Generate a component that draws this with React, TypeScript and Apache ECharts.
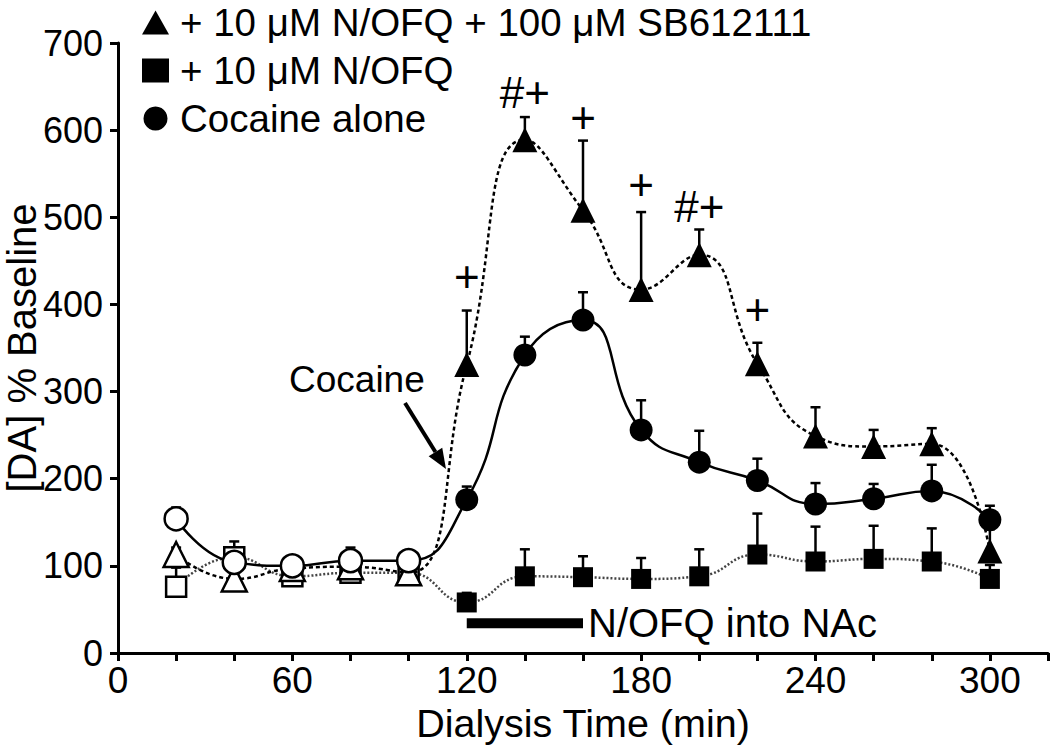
import React, { useEffect, useRef } from "react";
import * as echarts from "echarts";

const FONT = "'Liberation Sans', Arial, Helvetica, sans-serif";

const time = [20, 40, 60, 80, 100, 120, 140, 160, 180, 200, 220, 240, 260, 280, 300];
const openCount = 5;

const sbName = "+ 10 μM N/OFQ + 100 μM SB612111";
const sbMean = [113, 85, 97, 99, 92, 331, 589, 508, 417, 457, 332, 249, 237, 240, 117];
const sbSem = [8, 6, 4, 4, 4, 62, 26, 80, 89, 29, 24, 33, 19, 18, 25];

const nofqName = "+ 10 μM N/OFQ";
const nofqMean = [76, 110, 88, 92, 92, 58, 88, 87, 85, 88, 113, 105, 108, 105, 85];
const nofqSem = [22, 18, 3, 4, 4, 11, 31, 24, 24, 31, 47, 40, 38, 38, 16];

const cocName = "Cocaine alone";
const cocMean = [154, 104, 100, 106, 106, 176, 342, 382, 256, 219, 198, 171, 177, 186, 153];
const cocSem = [13, 6, 3, 15, 12, 15, 21, 32, 34, 36, 25, 24, 17, 30, 16];

const annotX = [120, 140, 160, 180, 200, 220];
const annotY = [432, 643, 615, 538, 512, 394];
const annotText = ["+", "#+", "+", "+", "#+", "+"];

const infusionStart = 120;
const infusionEnd = 160;
const infusionLevel = 34;
const infusionLabel = "N/OFQ into NAc";

const xTicks = [0, 60, 120, 180, 240, 300];

function pointData(mean: number[]) {
  return time.map((t, i) => {
    const open = i < openCount;
    return {
      value: [t, mean[i]],
      itemStyle: open
        ? { color: "#fff", borderColor: "#000", borderWidth: 2.5 }
        : { color: "#000", borderColor: "#000", borderWidth: 0 },
    };
  });
}

function errData(mean: number[], sem: number[]) {
  return time.map((t, i) => [t, mean[i], mean[i] + sem[i]]);
}

function errSeries(mean: number[], sem: number[], z: number) {
  return {
    type: "custom",
    z,
    silent: true,
    data: errData(mean, sem),
    renderItem: (params: any, api: any) => {
      const x = api.value(0);
      const y = api.value(1);
      const top = api.value(2);
      const p0 = api.coord([x, y]);
      const p1 = api.coord([x, top]);
      const cap = 5;
      return {
        type: "group",
        children: [
          {
            type: "line",
            shape: { x1: p0[0], y1: p0[1], x2: p1[0], y2: p1[1] },
            style: { stroke: "#000", lineWidth: 2.5 },
          },
          {
            type: "line",
            shape: { x1: p1[0] - cap, y1: p1[1], x2: p1[0] + cap, y2: p1[1] },
            style: { stroke: "#000", lineWidth: 2.5 },
          },
        ],
      };
    },
  };
}

export default function App() {
  const ref = useRef<HTMLDivElement>(null);

  useEffect(() => {
    document.body.style.margin = "0";
    if (!ref.current) return;
    const chart = echarts.init(ref.current, null, { renderer: "svg" });

    const axisCommon = {
      axisLine: { show: true, lineStyle: { color: "#000", width: 3 } },
      axisTick: { show: true, inside: false, length: 8, lineStyle: { color: "#000", width: 3 } },
      splitLine: { show: false },
    };

    // arrow geometry for the "Cocaine" pointer
    const tail = [405, 403];
    const tip = [446, 469];
    const dx = tip[0] - tail[0];
    const dy = tip[1] - tail[1];
    const len = Math.sqrt(dx * dx + dy * dy);
    const ux = dx / len;
    const uy = dy / len;
    const headLen = 20;
    const headHalf = 8;
    const bx = tip[0] - ux * headLen;
    const by = tip[1] - uy * headLen;

    const option: any = {
      animation: false,
      backgroundColor: "#fff",
      textStyle: { fontFamily: FONT },
      grid: {
        left: 118,
        right: 2,
        top: 43,
        bottom: 94,
        containLabel: false,
        outerBoundsMode: "none",
      },
      legend: {
        orient: "vertical",
        left: 142,
        top: 3,
        padding: 0,
        itemWidth: 27,
        itemHeight: 24,
        itemGap: 9,
        selectedMode: false,
        itemStyle: { color: "#000", borderWidth: 0 },
        textStyle: {
          fontSize: 38.5,
          lineHeight: 38,
          color: "#000",
          fontFamily: FONT,
          padding: [0, 0, 0, 6],
        },
        data: [
          { name: sbName, icon: "triangle" },
          { name: nofqName, icon: "rect" },
          { name: cocName, icon: "circle" },
        ],
      },
      xAxis: {
        type: "value",
        min: 0,
        max: 320,
        interval: 20,
        ...axisCommon,
        axisLabel: {
          fontSize: 37,
          color: "#000",
          fontFamily: FONT,
          margin: 9,
          formatter: (v: number) => (xTicks.includes(v) ? String(v) : ""),
        },
        name: "Dialysis Time (min)",
        nameLocation: "middle",
        nameGap: 50,
        nameMoveOverlap: false,
        nameTextStyle: { fontSize: 39.5, color: "#000", fontFamily: FONT },
      },
      yAxis: {
        type: "value",
        min: 0,
        max: 700,
        interval: 100,
        ...axisCommon,
        axisLabel: { fontSize: 36, color: "#000", fontFamily: FONT, margin: 15 },
        name: "[DA] % Baseline",
        nameLocation: "middle",
        nameGap: 76,
        nameMoveOverlap: false,
        nameTextStyle: { fontSize: 40, color: "#000", fontFamily: FONT },
      },
      series: [
        errSeries(nofqMean, nofqSem, 1),
        errSeries(sbMean, sbSem, 1),
        errSeries(cocMean, cocSem, 1),
        {
          name: nofqName,
          type: "line",
          smooth: 0.5,
          z: 3,
          symbol: "rect",
          symbolSize: 20,
          itemStyle: { color: "#000" },
          lineStyle: { color: "#444", width: 2.5, type: [2, 2] },
          data: pointData(nofqMean),
        },
        {
          name: sbName,
          type: "line",
          smooth: 0.5,
          z: 4,
          symbol: "triangle",
          symbolSize: 25,
          itemStyle: { color: "#000" },
          lineStyle: { color: "#000", width: 2.5, type: [4, 3] },
          data: pointData(sbMean),
        },
        {
          name: cocName,
          type: "line",
          smooth: 0.5,
          z: 5,
          symbol: "circle",
          symbolSize: 23,
          itemStyle: { color: "#000" },
          lineStyle: { color: "#000", width: 2.5 },
          data: pointData(cocMean),
        },
        {
          type: "line",
          z: 2,
          silent: true,
          symbol: "none",
          lineStyle: { color: "#000", width: 10 },
          data: [
            [infusionStart, infusionLevel],
            [infusionEnd, infusionLevel],
          ],
          endLabel: {
            show: true,
            formatter: infusionLabel,
            fontSize: 40,
            color: "#000",
            fontFamily: FONT,
            distance: 5,
          },
        },
        {
          type: "custom",
          z: 6,
          silent: true,
          data: annotX.map((x, i) => [x, annotY[i], i]),
          renderItem: (params: any, api: any) => {
            const p = api.coord([api.value(0), api.value(1)]);
            return {
              type: "text",
              x: p[0],
              y: p[1],
              style: {
                text: annotText[api.value(2)],
                fontSize: 44,
                fontFamily: FONT,
                fill: "#000",
                align: "center",
                verticalAlign: "middle",
              },
            };
          },
        },
      ],
      graphic: [
        {
          type: "text",
          left: 289,
          top: 361,
          style: { text: "Cocaine", fontSize: 37, fontFamily: FONT, fill: "#000" },
        },
        {
          type: "line",
          shape: { x1: tail[0], y1: tail[1], x2: bx, y2: by },
          style: { stroke: "#000", lineWidth: 4 },
        },
        {
          type: "polygon",
          shape: {
            points: [
              [tip[0], tip[1]],
              [bx - uy * headHalf, by + ux * headHalf],
              [bx + uy * headHalf, by - ux * headHalf],
            ],
          },
          style: { fill: "#000" },
        },
      ],
    };

    chart.setOption(option);
    return () => chart.dispose();
  }, []);

  return <div ref={ref} style={{ width: 1050, height: 747 }} />;
}
